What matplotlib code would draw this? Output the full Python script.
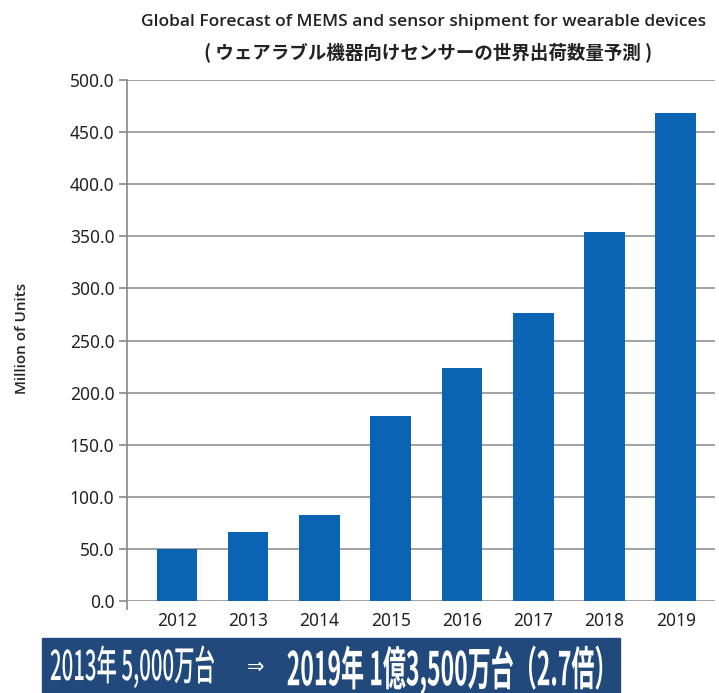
import matplotlib.pyplot as plt
from matplotlib.patches import Rectangle
from matplotlib.patheffects import AbstractPathEffect
from matplotlib.transforms import Affine2D

years = ['2012', '2013', '2014', '2015', '2016', '2017', '2018', '2019']
shipments = [50.3, 66.0, 82.7, 177.5, 223.5, 276.5, 354.5, 468.5]
yticks = [0, 50, 100, 150, 200, 250, 300, 350, 400, 450, 500]

title_en = 'Global Forecast of MEMS and sensor shipment for wearable devices'
title_jp = '( ウェアラブル機器向けセンサーの世界出荷数量予測 )'
banner_left = '2013年 5,000万台'
banner_arrow = '⇒'
banner_right = '2019年 1億3,500万台（2.7倍）'


class Stretch(AbstractPathEffect):
    # scales the glyphs around (x0, y0) in display pixels -> tall condensed look
    def __init__(self, sx, sy, x0, y0):
        super().__init__()
        self.sx, self.sy, self.x0, self.y0 = sx, sy, x0, y0

    def draw_path(self, renderer, gc, tpath, affine, rgbFace=None):
        t = affine + Affine2D().translate(-self.x0, -self.y0) \
            .scale(self.sx, self.sy).translate(self.x0, self.y0)
        renderer.draw_path(gc, tpath, t, rgbFace)


plt.rcParams['font.family'] = ['Noto Sans', 'Noto Sans CJK JP', 'DejaVu Sans']

W, H = 719, 693
fig = plt.figure(figsize=(W / 100, H / 100), dpi=100)
ax = fig.add_axes([127 / W, 1 - 601 / H, 588 / W, 521 / H])

bar_color = '#0b64b3'
ax.bar(range(len(years)), shipments, width=0.57, color=bar_color, zorder=2)
ax.set_xlim(-0.7, 7.55)
ax.set_ylim(0, 500)
ax.set_yticks(yticks)
ax.set_yticklabels(['%.1f' % v for v in yticks])
ax.set_xticks(range(len(years)))
ax.set_xticklabels(years)
ax.yaxis.grid(True, color='#9a9a9a', linewidth=1.3, zorder=0)
ax.set_axisbelow(True)

for s in ['top', 'right', 'bottom']:
    ax.spines[s].set_visible(False)
ax.spines['left'].set_color('#888888')
ax.spines['left'].set_linewidth(1.2)
ax.spines['left'].set_bounds(-8, 500)
ax.tick_params(axis='y', length=6, width=1.2, color='#888888',
               labelsize=12.5, labelcolor='#222222', pad=3)
ax.tick_params(axis='x', length=0, labelsize=12.5, labelcolor='#222222', pad=8)

fig.text(424 / W, 1 - 22 / H, title_en, ha='center', va='center',
         fontsize=12.5, fontweight='semibold', color='#222222',
         family=['Open Sans', 'Noto Sans CJK JP'])
fig.text(428 / W, 1 - 52 / H, title_jp, ha='center', va='center',
         fontsize=13.3, fontweight='bold', color='#222222',
         family=['Noto Sans CJK JP', 'DejaVu Sans'])
fig.text(22 / W, 1 - 338 / H, 'Million of Units', rotation=90,
         ha='center', va='center', fontsize=11, fontweight='semibold',
         color='#222222', family=['Open Sans', 'DejaVu Sans'])

# banner at the bottom
fig.patches.append(Rectangle((42 / W, 0), 578 / W, 55 / H,
                             transform=fig.transFigure, color='#22497b',
                             zorder=0))
cjk = ['Noto Sans CJK JP', 'DejaVu Sans']
t1 = fig.text(50 / W, 1 - 668 / H, banner_left, ha='left', va='center',
              fontsize=15, fontweight='medium', color='white', family=cjk)
fig.text(256 / W, 1 - 667 / H, banner_arrow, ha='center', va='center',
         fontsize=15, color='white', family=['DejaVu Sans'])
t2 = fig.text(617 / W, 1 - 670 / H, banner_right, ha='right', va='center',
              fontsize=17, fontweight='bold', color='white', family=cjk)

# fit each banner text to its width, then stretch it up to the reference height
renderer = fig.canvas.get_renderer()
for t, x0, x1, y, digit_h in [(t1, 50, 215, 668, 30), (t2, 286, 617, 670, 34)]:
    w = t.get_window_extent(renderer).width
    t.set_fontsize(t.get_fontsize() * (x1 - x0) / w)
    em = t.get_fontsize() * 100 / 72
    sy = digit_h / (0.733 * em)
    t.set_path_effects([Stretch(1.0, sy, x0, H - y)])

fig.savefig('out.png', dpi=100)
